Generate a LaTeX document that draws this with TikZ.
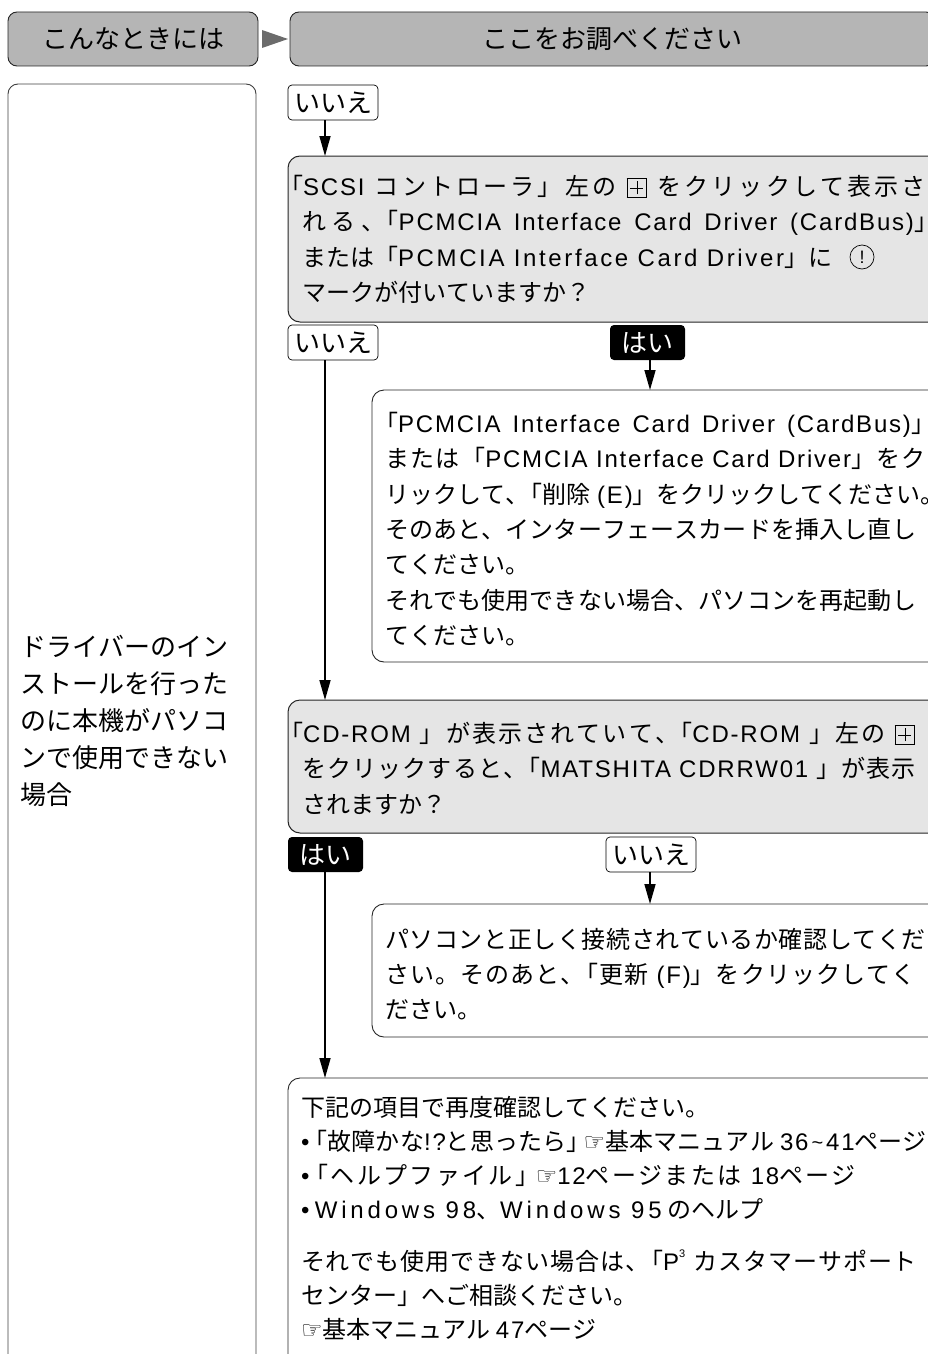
\documentclass[tikz,border=0pt]{standalone}
\usepackage{fontspec}
\setmainfont{Noto Sans CJK JP}
\newfontfamily\dejavu{DejaVu Sans}
\newfontfamily\latf{Liberation Sans}[LetterSpace=7.5]
\newfontfamily\latm{Liberation Sans}[LetterSpace=11]
\newfontfamily\latw{Liberation Sans}[LetterSpace=16]
\newcommand\la[1]{{\latf #1}}
\usetikzlibrary{arrows.meta}
\definecolor{hdrgray}{gray}{0.71}
\definecolor{qgray}{gray}{0.9}
\definecolor{trigray}{gray}{0.42}
% inter-character stretch for Japanese justification
\newcount\cjkcc
\def\setcjkcls#1#2{\cjkcc=#1 \loop\XeTeXcharclass\cjkcc=7 \ifnum\cjkcc<#2 \advance\cjkcc by 1 \repeat}
\setcjkcls{"3001}{"30FF}
\setcjkcls{"4E00}{"9FFF}
\setcjkcls{"FF01}{"FF5E}
\XeTeXinterchartoks 7 7 = {\hskip 0pt plus 1pt\relax}
\XeTeXinterchartoks 7 0 = {\hskip 0pt plus 1pt\relax}
\XeTeXinterchartoks 0 7 = {\hskip 0pt plus 1pt\relax}
\XeTeXinterchartokenstate=1
\newcommand\plusbox{\raisebox{-2pt}{\setlength\fboxsep{0pt}\setlength\fboxrule{0.7pt}\fbox{\makebox[19pt]{\rule{0pt}{19pt}\ooalign{\rule[9.2pt]{13pt}{0.6pt}\cr\hfil\rule[3pt]{0.6pt}{13pt}\hfil\cr}}}}}
\newcommand\hand{{\dejavu\fontsize{24}{24}\selectfont ☞}}
\newcommand\bul{{\latf •}}
\newcommand\ob{\hspace{-0.45em}「}
\newcommand\hb{\hspace{-0.95em}「}
\newcommand\tl{\raisebox{0.05em}{\fontsize{20}{20}\selectfont\textasciitilde}}
\newcommand\jl[2]{\makebox[#1pt][s]{\spaceskip=7pt plus 1pt\relax #2}}
\begin{document}
\begin{tikzpicture}[x=1pt,y=-1pt,
  every node/.style={inner sep=0pt, outer sep=0pt},
  hdr/.style={draw=black!85, fill=hdrgray, line width=0.9pt, rounded corners=9pt, anchor=north west, minimum height=54pt, font=\fontsize{26}{26}\selectfont},
  side/.style={draw=black!75, fill=white, line width=0.9pt, rounded corners=10pt, anchor=north west},
  qbox/.style={draw=black!85, fill=qgray, line width=1pt, rounded corners=12pt, anchor=north west},
  abox/.style={draw=black!85, fill=white, line width=0.9pt, rounded corners=12pt, anchor=north west},
  nolbl/.style={draw=black, fill=white, line width=0.7pt, rounded corners=4pt, minimum height=35pt, minimum width=90pt, font=\fontsize{26}{26}\selectfont, anchor=north west},
  yeslbl/.style={fill=black, text=white, rounded corners=4pt, minimum height=35pt, minimum width=75pt, font=\fontsize{26}{26}\selectfont, anchor=north west},
  txt/.style={anchor=north west, align=left, font=\fontsize{24}{35.4}\selectfont},
  warnmark/.style={draw, circle, line width=0.7pt, minimum size=24pt, font=\fontsize{18}{18}\latf},
  conn/.style={line width=1.6pt, -{Triangle[length=20pt,width=11pt]}},
]
\useasboundingbox (0,0) rectangle (927,1354);
% header
\node[hdr, minimum width=250pt] (h1) at (8,12) {こんなときには};
\node[hdr, minimum width=645pt] (h2) at (290,12) {ここをお調べください};
\fill[trigray] (h1.east) ++(4,-9) -- ++(26,9) -- ++(-26,9) -- cycle;
% left column
\node[side, minimum width=248pt, minimum height=1300pt] (lb) at (8,84) {};
\node[txt, font=\fontsize{26}{37}\selectfont] (lbt) at (20,635) {ドライバーのイン\\ストールを行った\\のに本機がパソコ\\ンで使用できない\\場合};
% connector x positions
\coordinate (cl) at (325,0);
\coordinate (cr) at (650,0);
% row 1
\node[nolbl] (no1) at (288,85) {いいえ};
\node[qbox, minimum width=660pt, minimum height=166pt] (q1) at (288,156) {};
\node[txt] (q1t) at (302,175) {\jl{624}{\hb\la{SCSI} コントローラ」左の \plusbox\ をクリックして表示さ}\\\jl{636}{れる、\ob\la{PCMCIA Interface Card Driver (CardBus)}」}\\または「{\latm PCMCIA Interface Card Driver}」に\\マークが付いていますか？};
\node[warnmark] (m1) at (862,257) {!};
\node[nolbl] (no2) at (288,325) {いいえ};
\node[yeslbl] (yes1) at (610,325) {はい};
\node[abox, minimum width=580pt, minimum height=272pt] (r1) at (372,390) {};
\node[txt] (r1t) at (385,412) {\jl{550}{\ob\la{PCMCIA Interface Card Driver (CardBus)}」}\\\jl{541}{または「\la{PCMCIA Interface Card Driver}」をク}\\\jl{551}{リックして、\ob 削除 \la{(E)}」をクリックしてください。}\\\jl{531}{そのあと、インターフェースカードを挿入し直し}\\てください。\\\jl{531}{それでも使用できない場合、パソコンを再起動し}\\てください。};
% row 2
\node[qbox, minimum width=660pt, minimum height=133pt] (q2) at (288,700) {};
\node[txt] (q2t) at (302,722) {\jl{613}{\hb\la{CD-ROM }」が表示されていて、\ob\la{CD-ROM }」左の \plusbox}\\\jl{614}{をクリックすると、\ob\la{MATSHITA CDRRW01 }」が表示}\\されますか？};
\node[yeslbl] (yes2) at (288,837) {はい};
\node[nolbl] (no3) at (606,837) {いいえ};
\node[abox, minimum width=580pt, minimum height=133pt] (r2) at (372,904) {};
\node[txt] (r2t) at (385,928) {\jl{541}{パソコンと正しく接続されているか確認してくだ}\\\jl{531}{さい。そのあと、\ob 更新 \la{(F)}」をクリックしてく}\\ださい。};
% bottom
\node[abox, minimum width=660pt, minimum height=320pt] (bb) at (288,1078) {};
\node[txt, font=\fontsize{24}{34}\selectfont] (bbt) at (301,1096) {下記の項目で再度確認してください。\\
\jl{626}{\bul\hspace{-0.25em}「故障かな\la{!?}と思ったら」\hspace{-0.3em}\hand 基本マニュアル\hspace{6pt}\la{36\hspace{3pt}\tl\hspace{3pt}41}ページ}\\
\jl{555}{\bul\hspace{-0.2em}「ヘルプファイル」\hspace{-0.15em}\hand\la{12}ページまたは \la{18}ページ}\\
\bul\ {\latw Windows 98}、{\latw Windows 95} のヘルプ\\[18pt]
\jl{616}{それでも使用できない場合は、\ob\la{P\raisebox{0.55em}{\fontsize{11}{11}\selectfont 3}} カスタマーサポート}\\
センター」へご相談ください。\\
\hand 基本マニュアル \la{47}ページ};
% connectors
\draw[conn] (no1.south -| cl) -- (q1.north -| cl);
\draw[conn] (yes1.south -| cr) -- (r1.north -| cr);
\draw[conn] (no2.south -| cl) -- (q2.north -| cl);
\draw[conn] (no3.south -| cr) -- (r2.north -| cr);
\draw[conn] (yes2.south -| cl) -- (bb.north -| cl);
\end{tikzpicture}
\end{document}
